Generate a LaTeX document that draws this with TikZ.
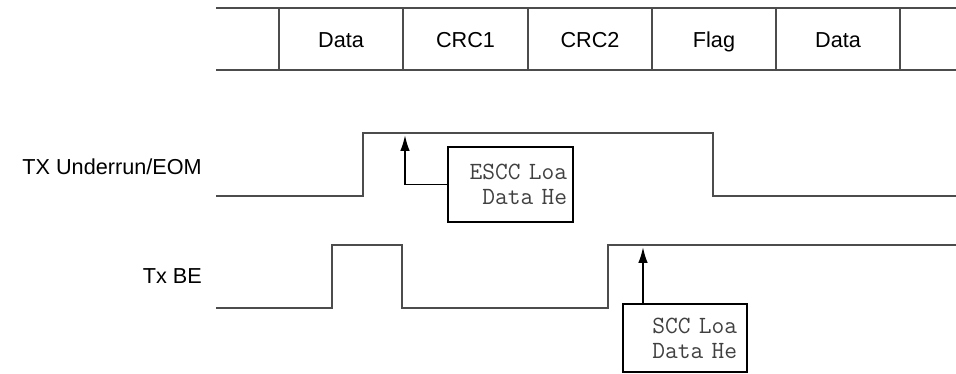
\documentclass[tikz,border=0pt]{standalone}
\usepackage{fontspec}
\setmainfont{Liberation Sans}
\usetikzlibrary{positioning, calc, arrows.meta}
\tikzset{
  > = {Latex[length = 4mm, width = 2.4mm]},
  wire/.style = {line width = 0.5mm, draw = black!70},
  field/.style = {inner sep = 0pt, anchor = base, font = \fontsize{15.4}{18}\selectfont},
  sigtag/.style = {field, anchor = base east},
  loadbox/.style = {draw, line width = 0.5mm, align = right, inner ysep = 0pt,
    text = black!75, font = \ttfamily\fontsize{17.6}{17.7}\selectfont},
  trigger/.style = {->, line width = 0.45mm}
}
\begin{document}
\begin{tikzpicture}[x = 0.25mm, y = -0.25mm]
\useasboundingbox (0,0) rectangle (956,374);

\draw [wire] (216,8) -- (956,8);
\draw [wire] (216,70) -- (956,70);
\foreach \x in {279, 403, 528, 652, 776, 900}
  \draw [wire] (\x,8) -- (\x,70);

\node [field] (data1) at (341,48) {Data};
\node [field] (crc1) at (465.5,48) {CRC1};
\node [field] (crc2) at (590,48) {CRC2};
\node [field] (flag) at (714,48) {Flag};
\node [field] (data2) at (838,48) {Data};

\node [sigtag] (eom) at (202,175) {TX Underrun/EOM};
\node [sigtag] (txbe) at (202,284) {Tx BE};

\draw [wire] (216,196) -- (363,196) -- (363,133) -- (713,133) -- (713,196) -- (956,196);
\draw [wire] (216,308) -- (332,308) -- (332,245) -- (402,245) -- (402,308)
  -- (608,308) -- (608,245) -- (956,245);

\node [loadbox, inner xsep = 1.5mm, text width = 28.25mm, minimum height = 18.75mm]
  (escc) at (510.5,184.5) {ESCC Loa\\Data He};
\node [loadbox, inner xsep = 2.5mm, text width = 26mm, minimum height = 17mm]
  (scc) at (685,338) {SCC Loa\\Data He};

\coordinate (tipA) at (405,135);
\coordinate (tipB) at (643,247);

\draw [trigger] (escc.west) -| (tipA);
\draw [trigger] (scc.north -| tipB) -- (tipB);

\end{tikzpicture}
\end{document}
